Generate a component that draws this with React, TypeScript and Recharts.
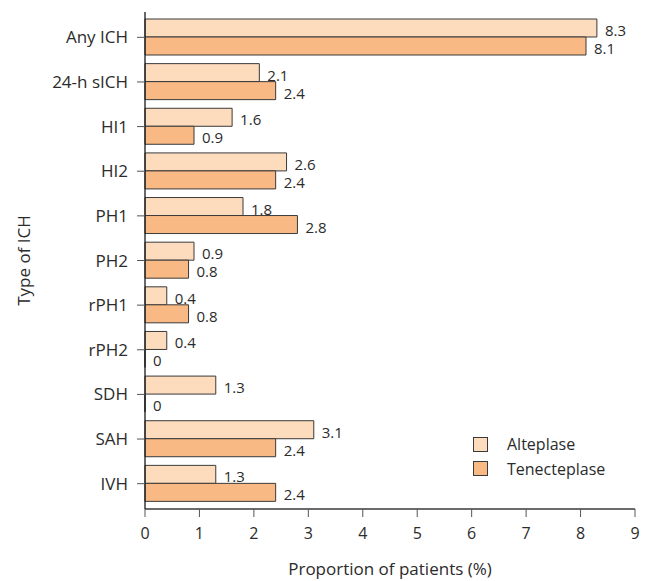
import React from 'react';
import { BarChart, Bar, XAxis, YAxis, Legend, LabelList } from 'recharts';

const categories = ['Any ICH', '24-h sICH', 'HI1', 'HI2', 'PH1', 'PH2', 'rPH1', 'rPH2', 'SDH', 'SAH', 'IVH'];
const alteplase = [8.3, 2.1, 1.6, 2.6, 1.8, 0.9, 0.4, 0.4, 1.3, 3.1, 1.3];
const tenecteplase = [8.1, 2.4, 0.9, 2.4, 2.8, 0.8, 0.8, 0, 0, 2.4, 2.4];
const xTicks = [0, 1, 2, 3, 4, 5, 6, 7, 8, 9];

const FONT = '"Open Sans", "Noto Sans", sans-serif';
const TEXT = '#2b2b2b';
const ALT_FILL = '#fddbbd';
const TNK_FILL = '#f9b984';
const EDGE = '#3a3a3a';

const data = categories.map((name, i) => ({
  name,
  alteplase: alteplase[i],
  tenecteplase: tenecteplase[i],
}));

function ValueLabel(props: any) {
  const { x, y, width, height, value } = props;
  return (
    <text
      x={x + width + 8}
      y={y + height / 2 + 2}
      dominantBaseline="central"
      fontSize={15}
      fontFamily={FONT}
      fill={TEXT}
    >
      {String(value)}
    </text>
  );
}

function LegendBox() {
  const items = [
    { label: 'Alteplase', fill: ALT_FILL },
    { label: 'Tenecteplase', fill: TNK_FILL },
  ];
  return (
    <div style={{ fontFamily: FONT, fontSize: 16, color: TEXT }}>
      {items.map((it) => (
        <div key={it.label} style={{ display: 'flex', alignItems: 'center', height: 24.4 }}>
          <span
            style={{
              display: 'inline-block',
              width: 13,
              height: 13,
              background: it.fill,
              border: `1px solid ${EDGE}`,
              marginRight: 19,
            }}
          />
          {it.label}
        </div>
      ))}
    </div>
  );
}

export default function App() {
  return (
    <div style={{ position: 'absolute', left: 0, top: 0, width: 649, height: 581, background: '#fff' }}>
      <BarChart
        width={649}
        height={581}
        data={data}
        layout="vertical"
        margin={{ top: 12, right: 14, bottom: 0, left: 0 }}
        barSize={18}
        barGap={0}
      >
        <XAxis
          type="number"
          domain={[0, 9]}
          ticks={xTicks}
          interval={0}
          height={72}
          tickSize={8}
          tickMargin={11}
          axisLine={{ stroke: EDGE, strokeWidth: 1.3 }}
          tickLine={{ stroke: '#555' }}
          tick={{ fontSize: 16, fontFamily: FONT, fill: TEXT }}
          label={{
            value: 'Proportion of patients (%)',
            position: 'insideBottom',
            offset: 6,
            fontSize: 17,
            fontFamily: FONT,
            fill: TEXT,
          }}
        />
        <YAxis
          type="category"
          dataKey="name"
          width={145}
          padding={{ top: 3, bottom: 3 }}
          tickSize={8}
          tickMargin={9}
          axisLine={{ stroke: '#1a1a1a', strokeWidth: 1.3 }}
          tickLine={{ stroke: '#555' }}
          tick={{ fontSize: 17, fontFamily: FONT, fill: TEXT }}
          label={{
            value: 'Type of ICH',
            angle: -90,
            position: 'insideLeft',
            offset: 24,
            textAnchor: 'middle',
            fontSize: 17,
            fontFamily: FONT,
            fill: TEXT,
          }}
        />
        <Legend
          layout="vertical"
          align="center"
          verticalAlign="middle"
          content={<LegendBox />}
          wrapperStyle={{ left: 473, top: 432, width: 170 }}
        />
        <Bar dataKey="alteplase" name="Alteplase" fill={ALT_FILL} stroke={EDGE} strokeWidth={1} minPointSize={0.01} isAnimationActive={false}>
          <LabelList dataKey="alteplase" content={<ValueLabel />} />
        </Bar>
        <Bar dataKey="tenecteplase" name="Tenecteplase" fill={TNK_FILL} stroke={EDGE} strokeWidth={1} minPointSize={0.01} isAnimationActive={false}>
          <LabelList dataKey="tenecteplase" content={<ValueLabel />} />
        </Bar>
      </BarChart>
    </div>
  );
}
